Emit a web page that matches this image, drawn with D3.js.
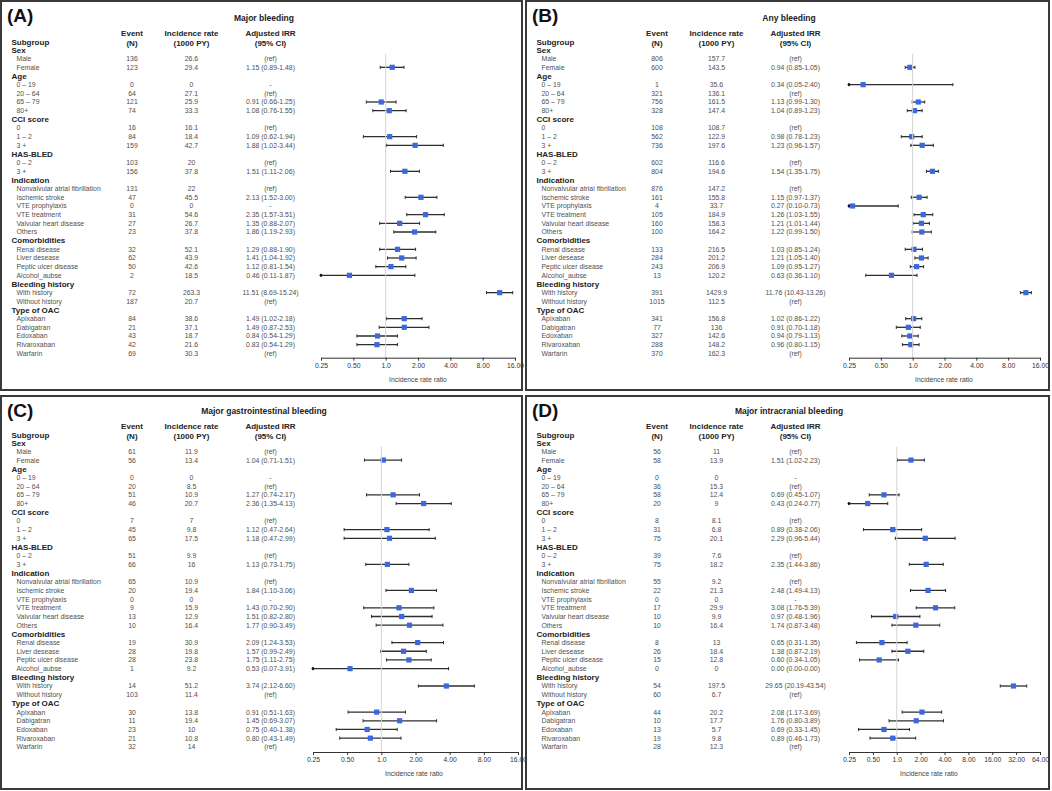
<!DOCTYPE html>
<html>
<head>
<meta charset="utf-8">
<script src="https://cdn.jsdelivr.net/npm/d3@7"></script>
<style>
  html, body { margin: 0; padding: 0; background: #fff; }
  svg { display: block; font-family: "Liberation Sans", Arial, sans-serif; }
</style>
</head>
<body>
<svg id="chart" width="1052" height="791"></svg>
<script>
// Subgroups, shared by the four panels.
const groupNames = ["Sex", "Age", "CCI score", "HAS-BLED", "Indication", "Comorbidities", "Bleeding history", "Type of OAC"];
const groupItems = [
    ["Male", "Female"],
    ["0 – 19", "20 – 64", "65 – 79", "80+"],
    ["0", "1 – 2", "3 +"],
    ["0 – 2", "3 +"],
    ["Nonvalvular atrial fibrillation", "Ischemic stroke", "VTE prophylaxis", "VTE treatment", "Valvular heart disease", "Others"],
    ["Renal disease", "Liver desease", "Peptic ulcer disease", "Alcohol_aubse"],
    ["With history", "Without history"],
    ["Apixaban", "Dabigatran", "Edoxaban", "Rivaroxaban", "Warfarin"]
];

// (A) Major bleeding
const eventsA = [136, 123, 0, 64, 121, 74, 16, 84, 159, 103, 156, 131, 47, 0, 31, 27, 23, 32, 62, 50, 2, 72, 187, 84, 21, 43, 42, 69];
const rateA = [26.6, 29.4, 0, 27.1, 25.9, 33.3, 16.1, 18.4, 42.7, 20, 37.8, 22, 45.5, 0, 54.6, 26.7, 37.8, 52.1, 43.9, 42.6, 18.5, 263.3, 20.7, 38.6, 37.1, 18.7, 21.6, 30.3];
const irrA = ["ref", 1.15, "-", "ref", 0.91, 1.08, "ref", 1.09, 1.88, "ref", 1.51, "ref", 2.13, "-", 2.35, 1.35, 1.86, 1.29, 1.41, 1.12, 0.46, 11.51, "ref", 1.49, 1.49, 0.84, 0.83, "ref"];
const loA = [null, 0.89, null, null, 0.66, 0.76, null, 0.62, 1.02, null, 1.11, null, 1.52, null, 1.57, 0.88, 1.19, 0.88, 1.04, 0.81, 0.11, 8.69, null, 1.02, 0.87, 0.54, 0.54, null];
const hiA = [null, 1.48, null, null, 1.25, 1.55, null, 1.94, 3.44, null, 2.06, null, 3.00, null, 3.51, 2.07, 2.93, 1.90, 1.92, 1.54, 1.87, 15.24, null, 2.18, 2.53, 1.29, 1.29, null];

// (B) Any bleeding
const eventsB = [806, 600, 1, 321, 756, 328, 108, 562, 736, 602, 804, 876, 161, 4, 105, 160, 100, 133, 284, 243, 13, 391, 1015, 341, 77, 327, 288, 370];
const rateB = [157.7, 143.5, 35.6, 136.1, 161.5, 147.4, 108.7, 122.9, 197.6, 116.6, 194.6, 147.2, 155.8, 33.7, 184.9, 158.3, 164.2, 216.5, 201.2, 206.9, 120.2, 1429.9, 112.5, 156.8, 136, 142.6, 148.2, 162.3];
const irrB = ["ref", 0.94, 0.34, "ref", 1.13, 1.04, "ref", 0.98, 1.23, "ref", 1.54, "ref", 1.15, 0.27, 1.26, 1.21, 1.22, 1.03, 1.21, 1.09, 0.63, 11.76, "ref", 1.02, 0.91, 0.94, 0.96, "ref"];
const loB = [null, 0.85, 0.05, null, 0.99, 0.89, null, 0.78, 0.96, null, 1.35, null, 0.97, 0.10, 1.03, 1.01, 0.99, 0.85, 1.05, 0.95, 0.36, 10.43, null, 0.86, 0.70, 0.79, 0.80, null];
const hiB = [null, 1.05, 2.40, null, 1.30, 1.23, null, 1.23, 1.57, null, 1.75, null, 1.37, 0.73, 1.55, 1.44, 1.50, 1.24, 1.40, 1.27, 1.10, 13.26, null, 1.22, 1.18, 1.13, 1.15, null];

// (C) Major gastrointestinal bleeding
const eventsC = [61, 56, 0, 20, 51, 46, 7, 45, 65, 51, 66, 65, 20, 0, 9, 13, 10, 19, 28, 28, 1, 14, 103, 30, 11, 23, 21, 32];
const rateC = [11.9, 13.4, 0, 8.5, 10.9, 20.7, 7, 9.8, 17.5, 9.9, 16, 10.9, 19.4, 0, 15.9, 12.9, 16.4, 30.9, 19.8, 23.8, 9.2, 51.2, 11.4, 13.8, 19.4, 10, 10.8, 14];
const irrC = ["ref", 1.04, "-", "ref", 1.27, 2.36, "ref", 1.12, 1.18, "ref", 1.13, "ref", 1.84, "-", 1.43, 1.51, 1.77, 2.09, 1.57, 1.75, 0.53, 3.74, "ref", 0.91, 1.45, 0.75, 0.80, "ref"];
const loC = [null, 0.71, null, null, 0.74, 1.35, null, 0.47, 0.47, null, 0.73, null, 1.10, null, 0.70, 0.82, 0.90, 1.24, 0.99, 1.11, 0.07, 2.12, null, 0.51, 0.69, 0.40, 0.43, null];
const hiC = [null, 1.51, null, null, 2.17, 4.13, null, 2.64, 2.99, null, 1.75, null, 3.06, null, 2.90, 2.80, 3.49, 3.53, 2.49, 2.75, 3.91, 6.60, null, 1.63, 3.07, 1.38, 1.49, null];

// (D) Major intracranial bleeding
const eventsD = [56, 58, 0, 36, 58, 20, 8, 31, 75, 39, 75, 55, 22, 0, 17, 10, 10, 8, 26, 15, 0, 54, 60, 44, 10, 13, 19, 28];
const rateD = [11, 13.9, 0, 15.3, 12.4, 9, 8.1, 6.8, 20.1, 7.6, 18.2, 9.2, 21.3, 0, 29.9, 9.9, 16.4, 13, 18.4, 12.8, 0, 197.5, 6.7, 20.2, 17.7, 5.7, 9.8, 12.3];
const irrD = ["ref", 1.51, "-", "ref", 0.69, 0.43, "ref", 0.89, 2.29, "ref", 2.35, "ref", 2.48, "-", 3.08, 0.97, 1.74, 0.65, 1.38, 0.60, 0.00, 29.65, "ref", 2.08, 1.76, 0.69, 0.89, "ref"];
const loD = [null, 1.02, null, null, 0.45, 0.24, null, 0.38, 0.96, null, 1.44, null, 1.49, null, 1.76, 0.48, 0.87, 0.31, 0.87, 0.34, 0.00, 20.19, null, 1.17, 0.80, 0.33, 0.46, null];
const hiD = [null, 2.23, null, null, 1.07, 0.77, null, 2.06, 5.44, null, 3.86, null, 4.13, null, 5.39, 1.96, 3.48, 1.35, 2.19, 1.05, 0.00, 43.54, null, 3.69, 3.89, 1.45, 1.73, null];

// Axis ticks.
const ticksSmall = [0.25, 0.5, 1, 2, 4, 8, 16];
const tickLabelsSmall = ["0.25", "0.50", "1.0", "2.00", "4.00", "8.00", "16.00"];
const ticksLarge = [0.25, 0.5, 1, 2, 4, 8, 16, 32, 64];
const tickLabelsLarge = ["0.25", "0.50", "1.0", "2.00", "4.00", "8.00", "16.00", "32.00", "64.00"];


/**
 * @desc Flattens the groups into a list of rows. Group rows carry no data,
 * item rows point to their index in the panel arrays.
 * @returns {object[]} Rows in drawing order.
 */
function buildRows() {
    var rows = [],
        k = 0;

    groupNames.forEach((g, gi) => {
        rows.push({ group: true, label: g });
        groupItems[gi].forEach((item) => rows.push({ group: false, label: item, k: k++ }));
    });

    return rows;
}


/**
 * @desc Text for the adjusted IRR column.
 */
function irrText(est, lo, hi) {
    if (est == "ref") return "(ref)";
    if (est == "-") return "-";
    return est.toFixed(2) + " (" + lo.toFixed(2) + "-" + hi.toFixed(2) + ")";
}


/**
 * @desc Draws one forest plot panel with its table.
 * @param {object} svg d3 svg object.
 * @param {object} p Panel description (data arrays plus layout).
 */
function drawPanel(svg, p) {
    const rows = buildRows(),
        g = svg.append("g").attr("transform", `translate(${p.x},${p.y})`),
        x = d3.scaleLog().base(2).domain([p.ticks[0], p.ticks[p.ticks.length - 1]]).range(p.xRange),
        rowY = (i) => p.rowY0 + i * p.rowStep,
        [dmin, dmax] = x.domain();

    // Frame.
    g.append("rect")
        .attr("x", 0).attr("y", 0)
        .attr("width", p.w).attr("height", p.h)
        .attr("fill", "none")
        .attr("stroke", "#3a3a3a")
        .attr("stroke-width", 2);

    // Panel letter and title.
    g.append("text")
        .attr("x", 6).attr("y", 14).attr("dy", "0.35em")
        .attr("font-size", 19).attr("font-weight", "bold").attr("fill", "#111")
        .text(p.letter);

    g.append("text")
        .attr("x", 263).attr("y", p.titleY).attr("dy", "0.35em")
        .attr("text-anchor", "middle")
        .attr("font-size", 8.5).attr("font-weight", "bold").attr("fill", "#222")
        .text(p.title);

    // Column headers.
    const head = [
        { x: 131, t: ["Event", "(N)"] },
        { x: 190.5, t: ["Incidence rate", "(1000 PY)"] },
        { x: 269.5, t: ["Adjusted IRR", "(95% CI)"] }
    ];
    head.forEach((h) => {
        h.t.forEach((t, j) => {
            g.append("text")
                .attr("x", h.x).attr("y", p.headY + j * 10).attr("dy", "0.35em")
                .attr("text-anchor", "middle")
                .attr("font-size", 8).attr("font-weight", "bold").attr("fill", "#222")
                .text(t);
        });
    });
    g.append("text")
        .attr("x", 10.5).attr("y", p.headY + 9).attr("dy", "0.35em")
        .attr("font-size", 8).attr("font-weight", "bold").attr("fill", "#222")
        .text("Subgroup");

    // Table rows.
    const row = g.append("g")
        .selectAll("g")
        .data(rows)
        .enter()
        .append("g")
        .attr("transform", (d, i) => `translate(0,${rowY(i)})`);

    row.append("text")
        .attr("x", (d) => d.group ? 10.5 : 15.5)
        .attr("dy", "0.35em")
        .attr("font-size", (d) => d.group ? 8 : 6.9)
        .attr("font-weight", (d) => d.group ? "bold" : "normal")
        .attr("fill", (d) => d.group ? "#222" : "#505050")
        .text((d) => d.label);

    const items = row.filter((d) => !d.group);

    items.append("text")
        .attr("x", 131).attr("dy", "0.35em").attr("text-anchor", "middle")
        .attr("font-size", 6.9).attr("fill", "#505050")
        .text((d) => p.events[d.k]);

    items.append("text")
        .attr("x", 190.5).attr("dy", "0.35em").attr("text-anchor", "middle")
        .attr("font-size", 6.9).attr("fill", "#505050")
        .text((d) => p.rate[d.k]);

    items.append("text")
        .attr("x", 269.5).attr("dy", "0.35em").attr("text-anchor", "middle")
        .attr("font-size", 6.9).attr("fill", "#505050")
        .text((d) => irrText(p.irr[d.k], p.lo[d.k], p.hi[d.k]));

    // Reference line at IRR = 1.
    g.append("line")
        .attr("x1", x(1)).attr("x2", x(1))
        .attr("y1", rowY(0) + 4).attr("y2", p.axisY)
        .attr("stroke", "#d4d4d4").attr("stroke-width", 1);

    // Confidence intervals and point estimates, only where an estimate exists.
    const est = items.filter((d) => typeof p.irr[d.k] == "number" && p.irr[d.k] > 0);

    const lo = (d) => x(Math.max(p.lo[d.k], dmin)),
        hi = (d) => x(Math.min(p.hi[d.k], dmax));

    est.append("line")
        .attr("x1", lo).attr("x2", hi)
        .attr("stroke", "#2e2e2e").attr("stroke-width", 1.3);

    est.append("line")
        .attr("x1", lo).attr("x2", lo).attr("y1", -1.6).attr("y2", 1.6)
        .attr("stroke", "#2e2e2e").attr("stroke-width", 1);

    est.append("line")
        .attr("x1", hi).attr("x2", hi).attr("y1", -1.6).attr("y2", 1.6)
        .attr("stroke", "#2e2e2e").attr("stroke-width", 1);

    // Clipped ends get a small dot, like the original.
    est.filter((d) => p.lo[d.k] < dmin)
        .append("circle")
        .attr("cx", lo).attr("r", 1.4).attr("fill", "#111");

    est.append("rect")
        .attr("x", (d) => x(p.irr[d.k]) - 2.6).attr("y", -2.6)
        .attr("width", 5.2).attr("height", 5.2)
        .attr("fill", "#3b68e0");

    // Axis.
    const axis = d3.axisBottom(x)
        .tickValues(p.ticks)
        .tickFormat((d, i) => p.tickLabels[i])
        .tickSizeInner(3)
        .tickSizeOuter(0)
        .tickPadding(2);

    const ax = g.append("g")
        .attr("transform", `translate(0,${p.axisY})`)
        .call(axis);

    ax.select(".domain").attr("stroke", "#333");
    ax.selectAll(".tick line").attr("stroke", "#333");
    ax.selectAll(".tick text")
        .attr("font-family", "Liberation Sans, Arial, sans-serif")
        .attr("font-size", 6.8).attr("fill", "#333");

    g.append("text")
        .attr("x", p.axisTitleX).attr("y", p.axisY + 22).attr("dy", "0.35em")
        .attr("text-anchor", "middle")
        .attr("font-size", 6.8).attr("fill", "#444")
        .text("Incidence rate ratio");
}


const svg = d3.select("#chart");

const panels = [
    { letter: "(A)", title: "Major bleeding", x: 1, y: 1, w: 521, h: 389,
      events: eventsA, rate: rateA, irr: irrA, lo: loA, hi: hiA,
      ticks: ticksSmall, tickLabels: tickLabelsSmall, xRange: [320, 514], axisTitleX: 417,
      titleY: 17.3, headY: 31.7, rowY0: 49, rowStep: 8.666, axisY: 356.7 },
    { letter: "(B)", title: "Any bleeding", x: 526, y: 1, w: 523, h: 389,
      events: eventsB, rate: rateB, irr: irrB, lo: loB, hi: hiB,
      ticks: ticksSmall, tickLabels: tickLabelsSmall, xRange: [323, 514], axisTitleX: 418,
      titleY: 17.3, headY: 31.7, rowY0: 49, rowStep: 8.666, axisY: 356.7 },
    { letter: "(C)", title: "Major gastrointestinal bleeding", x: 1, y: 396, w: 521, h: 393,
      events: eventsC, rate: rateC, irr: irrC, lo: loC, hi: hiC,
      ticks: ticksSmall, tickLabels: tickLabelsSmall, xRange: [312, 517], axisTitleX: 413,
      titleY: 15.3, headY: 29.7, rowY0: 46.7, rowStep: 8.69, axisY: 356 },
    { letter: "(D)", title: "Major intracranial bleeding", x: 526, y: 396, w: 523, h: 393,
      events: eventsD, rate: rateD, irr: irrD, lo: loD, hi: hiD,
      ticks: ticksLarge, tickLabels: tickLabelsLarge, xRange: [323, 514], axisTitleX: 403,
      titleY: 15.3, headY: 29.7, rowY0: 46.7, rowStep: 8.69, axisY: 356 }
];

panels.forEach((p) => drawPanel(svg, p));
</script>
</body>
</html>
